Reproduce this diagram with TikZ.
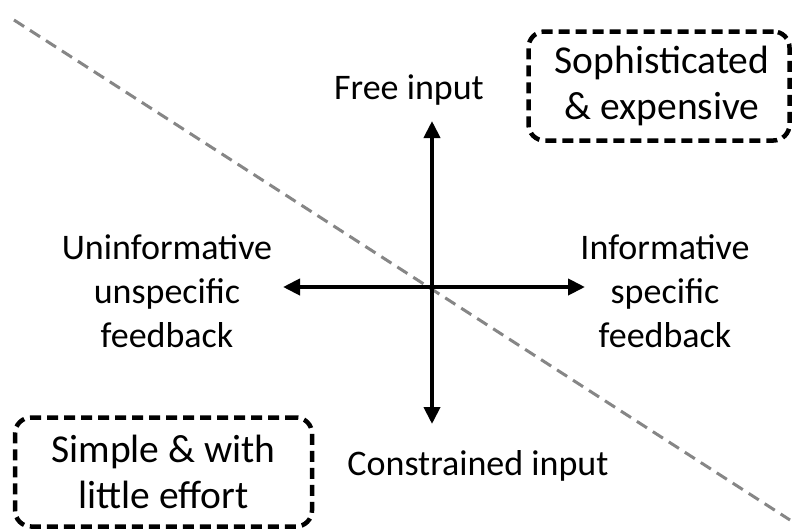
\documentclass[tikz,border=0pt]{standalone}
\usepackage{fontspec}
\setmainfont{Carlito}
\usetikzlibrary{arrows.meta}
\begin{document}
\begin{tikzpicture}[x=1pt,y=-1pt,
  axis/.style={line width=4pt,{Triangle[length=17pt,width=16pt]}-{Triangle[length=17pt,width=16pt]}},
  divider/.style={draw=gray!95,line width=3pt,dash pattern=on 12pt off 7pt},
  label/.style={font=\fontsize{36}{44}\selectfont,align=center,inner sep=0pt},
  corner/.style={draw,line width=4.5pt,dash pattern=on 11pt off 6pt,rounded corners=16pt,
    font=\fontsize{39.5}{46}\selectfont,align=center,minimum width=#1,minimum height=109pt,inner sep=0pt}]
  \useasboundingbox (0,0) rectangle (793,531);
  % dashed trade-off line
  \coordinate (d1) at (14,20);
  \coordinate (d2) at (790,520);
  \draw[divider] (d1) -- (d2);
  % axes
  \coordinate (left) at (283,287);
  \coordinate (right) at (585,287);
  \coordinate (top) at (432,121);
  \coordinate (bottom) at (432,424);
  \draw[axis] (left) -- (right);
  \draw[axis] (bottom) -- (top);
  % axis labels
  \node[label] (free) at (409,90) {Free input};
  \node[label] (constr) at (478,466) {Constrained input};
  \node[label] (uninf) at (167,291) {Uninformative\\unspecific\\feedback};
  \node[label] (inf) at (665,291) {Informative\\specific\\feedback};
  % corner boxes
  \node[corner=261pt] (soph) at (659,86) {\hspace*{6pt}Sophisticated\\\hspace*{6pt}\& expensive};
  \node[corner=297pt] (simple) at (163.5,472) {Simple \& with\\little effort};
\end{tikzpicture}
\end{document}
